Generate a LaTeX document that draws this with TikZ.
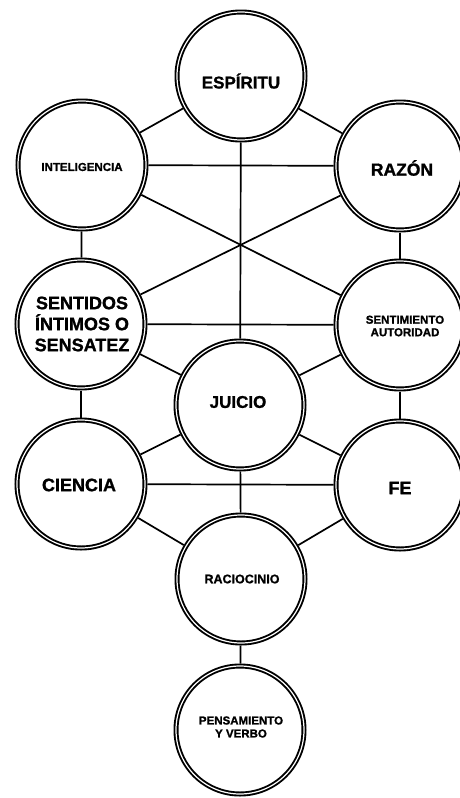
\documentclass[tikz,border=0pt]{standalone}
\usepackage{fontspec}
\setmainfont{Liberation Sans}
\newfontfamily\heavy{Liberation Sans Bold}[FakeBold=1.2]
\begin{document}
\begin{tikzpicture}[x=1pt,y=-1pt,
  ring/.style={circle,draw=black,double=white,line width=1.9pt,double distance=1.2pt,
    minimum size=128pt,inner sep=0pt,outer sep=2.5pt},
  link/.style={line width=1.7pt,black},
  lbl/.style={inner sep=0pt,align=center}
]
\useasboundingbox (0,0) rectangle (460,798);
\clip (0,0) rectangle (460,798);
% circles
\node[ring] (esp) at (241,76) {};
\node[ring] (int) at (82,165) {};
\node[ring] (raz) at (400,166) {};
\node[ring] (sen) at (81,324) {};
\node[ring] (stm) at (400,325) {};
\node[ring] (jui) at (240,405) {};
\node[ring] (cie) at (81,484) {};
\node[ring] (fe)  at (400,485) {};
\node[ring] (rac) at (241,579) {};
\node[ring] (pen) at (240,730) {};
% connectors
\draw[link] (esp) -- (int);
\draw[link] (esp) -- (raz);
\draw[link] (int) -- (raz);
\draw[link] (esp) -- (jui);
\draw[link] (int) -- (stm);
\draw[link] (raz) -- (sen);
\draw[link] (int) -- (sen);
\draw[link] (raz) -- (stm);
\draw[link] (sen) -- (stm);
\draw[link] (sen) -- (jui);
\draw[link] (stm) -- (jui);
\draw[link] (sen) -- (cie);
\draw[link] (stm) -- (fe);
\draw[link] (cie) -- (jui);
\draw[link] (fe) -- (jui);
\draw[link] (cie) -- (fe);
\draw[link] (jui) -- (rac);
\draw[link] (cie) -- (rac);
\draw[link] (fe) -- (rac);
\draw[link] (rac) -- (pen);
% labels
\node[lbl,font=\heavy\fontsize{17}{20}\selectfont] (tesp) at (241,81) {ESPÍRITU};
\node[lbl,font=\heavy\fontsize{11.5}{13}\selectfont] (tint) at (82,167) {INTELIGENCIA};
\node[lbl,font=\heavy\fontsize{17.5}{20}\selectfont] (traz) at (402,168) {RAZÓN};
\node[lbl,font=\heavy\fontsize{18}{21}\selectfont] (tsen) at (82,324) {SENTIDOS\\ÍNTIMOS O\\SENSATEZ};
\node[lbl,font=\heavy\fontsize{11.5}{12.5}\selectfont] (tstm) at (405,326) {SENTIMIENTO\\AUTORIDAD};
\node[lbl,font=\heavy\fontsize{17}{20}\selectfont] (tjui) at (238,402) {JUICIO};
\node[lbl,font=\heavy\fontsize{18}{20}\selectfont] (tcie) at (79,485) {CIENCIA};
\node[lbl,font=\heavy\fontsize{18}{20}\selectfont] (tfe) at (400,488) {FE};
\node[lbl,font=\heavy\fontsize{12.5}{14}\selectfont] (trac) at (242,579) {RACIOCINIO};
\node[lbl,font=\heavy\fontsize{11.5}{13}\selectfont] (tpen) at (241,727) {PENSAMIENTO\\Y VERBO};
\end{tikzpicture}
\end{document}
